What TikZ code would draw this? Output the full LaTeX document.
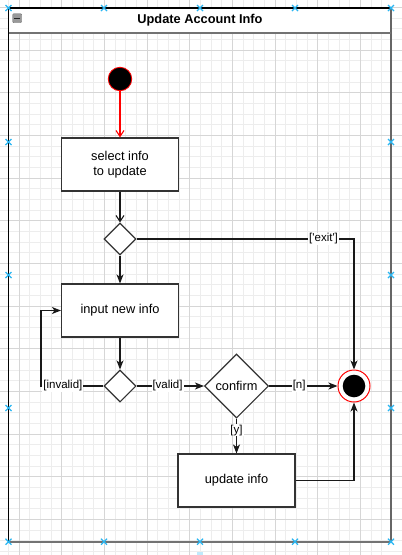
\documentclass[tikz,border=0pt]{standalone}
\usepackage{fontspec}
\setmainfont{Liberation Sans}
\usetikzlibrary{shapes.geometric,arrows.meta}
\definecolor{handle}{HTML}{29B6F2}
\definecolor{lineclr}{HTML}{333333}

\begin{document}
\begin{tikzpicture}[x=1pt,y=-1pt,%
% common options for the activity boxes:
act/.style = {draw=lineclr, line width=1.1pt, fill=white, rectangle, align=center,
            minimum width=117pt, minimum height=53pt, inner sep=0,
            font=\fontsize{12.8}{15.5}\selectfont},
% common options for the decisions:
dec/.style = {draw=lineclr, line width=1.1pt, fill=white, diamond, align=center,
            minimum width=32pt, minimum height=32pt, inner sep=0,
            font=\fontsize{12.8}{15}\selectfont},
% common options for the flow lines and the guards:
flow/.style = {draw=black!90, line width=1.1pt, -{Stealth[length=9pt,width=7pt,inset=2.5pt]}},
openflow/.style = {draw=black!90, line width=1.1pt, -{Straight Barb[length=6pt,width=8pt]}},
guard/.style = {fill=white, inner sep=1pt, font=\fontsize{11.5}{13}\selectfont},
% grid of the canvas:
gminor/.style = {draw=black!7, line width=0.8pt},
gmajor/.style = {draw=black!16, line width=0.8pt}]
\useasboundingbox (0,0) rectangle (402,555);
\fill[white] (0,0) rectangle (402,555);
\foreach \k in {0,...,35} \draw[gminor] ({8.4+10.667*\k},0) -- ({8.4+10.667*\k},555);
\foreach \k in {0,...,51} \draw[gminor] (0,{7.5+10.667*\k}) -- (402,{7.5+10.667*\k});
\foreach \k in {1,5,...,33} \draw[gmajor] ({8.4+10.667*\k},0) -- ({8.4+10.667*\k},555);
\foreach \k in {0,4,...,48} \draw[gmajor] (0,{7.5+10.667*\k}) -- (402,{7.5+10.667*\k});
% the lane
\fill[white] (8.5,8) rectangle (391,32.5);
\draw[black, line width=1.1pt] (391,8) -- (8.5,8) -- (8.5,541.7);
\draw[black!60, line width=1.3pt] (391,8) -- (391,541.7);
\draw[black!55, line width=2pt] (8.5,32.5) -- (391,32.5);
\draw[black!55, line width=2pt] (8.5,541.7) -- (391,541.7);
\node[font=\bfseries\fontsize{12.8}{15}\selectfont] (title) at (200,20.5) {Update Account Info};
\node[draw=black!55, fill=black!40, minimum size=9pt, inner sep=0, rounded corners=1pt] (fold) at (17.2,18.2) {};
\draw[black!85, line width=1.2pt] (fold.center) ++(-3,0) -- ++(6,0);
% activity nodes
\node[circle, draw=red, fill=black, minimum size=23.5pt, inner sep=0, line width=0.8pt] (init) at (120,79) {};
\node[act] (sel) at (120,164.5) {select info\\to update};
\node[dec] (dec1) at (120,239) {};
\node[act] (inp) at (120,310.5) {input new info};
\node[dec] (dec2) at (120,386) {};
\node[dec, minimum width=64pt, minimum height=64pt] (conf) at (236.5,386) {confirm};
\node[circle, draw=red, fill=white, minimum size=32pt, inner sep=0, line width=1pt] (fin) at (354,386) {};
\node[circle, fill=black, minimum size=22.6pt, inner sep=0] (finin) at (fin.center) {};
\node[act] (upd) at (236.5,480.5) {update info};
\coordinate (back) at (41,386);
% flows
\draw[openflow, draw=red] (init.south) -- (sel.north);
\draw[openflow] (sel.south) -- (dec1.north);
\draw[flow] (dec1.south) -- (inp.north);
\draw[flow] (dec1.east) -| node[guard, pos=0.43] (gexit) {[\textquotesingle exit\textquotesingle]} (fin.north);
\draw[flow] (inp.south) -- (dec2.north);
\draw[flow] (dec2.west) -- node[guard, pos=0.65] (ginv) {[invalid]} (back) |- (inp.west);
\draw[flow] (dec2.east) -- node[guard, pos=0.46] (gval) {[valid]} (conf.west);
\draw[flow] (conf.east) -- node[guard, pos=0.44] (gno) {[n]} (fin.west);
\draw[flow] (conf.south) -- node[guard, pos=0.33] (gyes) {[y]} (upd.north);
\draw[flow] (upd.east) -| (fin.south);
% selection handles
\foreach \y in {8,541.7} \foreach \x in {8.5,104,200,295,391}
  \draw[handle, line width=1.2pt] (\x,\y) ++(-3,-3) -- ++(6,6) (\x,\y) ++(-3,3) -- ++(6,-6);
\foreach \y in {142,275,408} \foreach \x in {8.5,391}
  \draw[handle, line width=1.2pt] (\x,\y) ++(-3,-3) -- ++(6,6) (\x,\y) ++(-3,3) -- ++(6,-6);
\fill[handle!30] (197,551.5) rectangle (203,555);
\end{tikzpicture}
\end{document}
